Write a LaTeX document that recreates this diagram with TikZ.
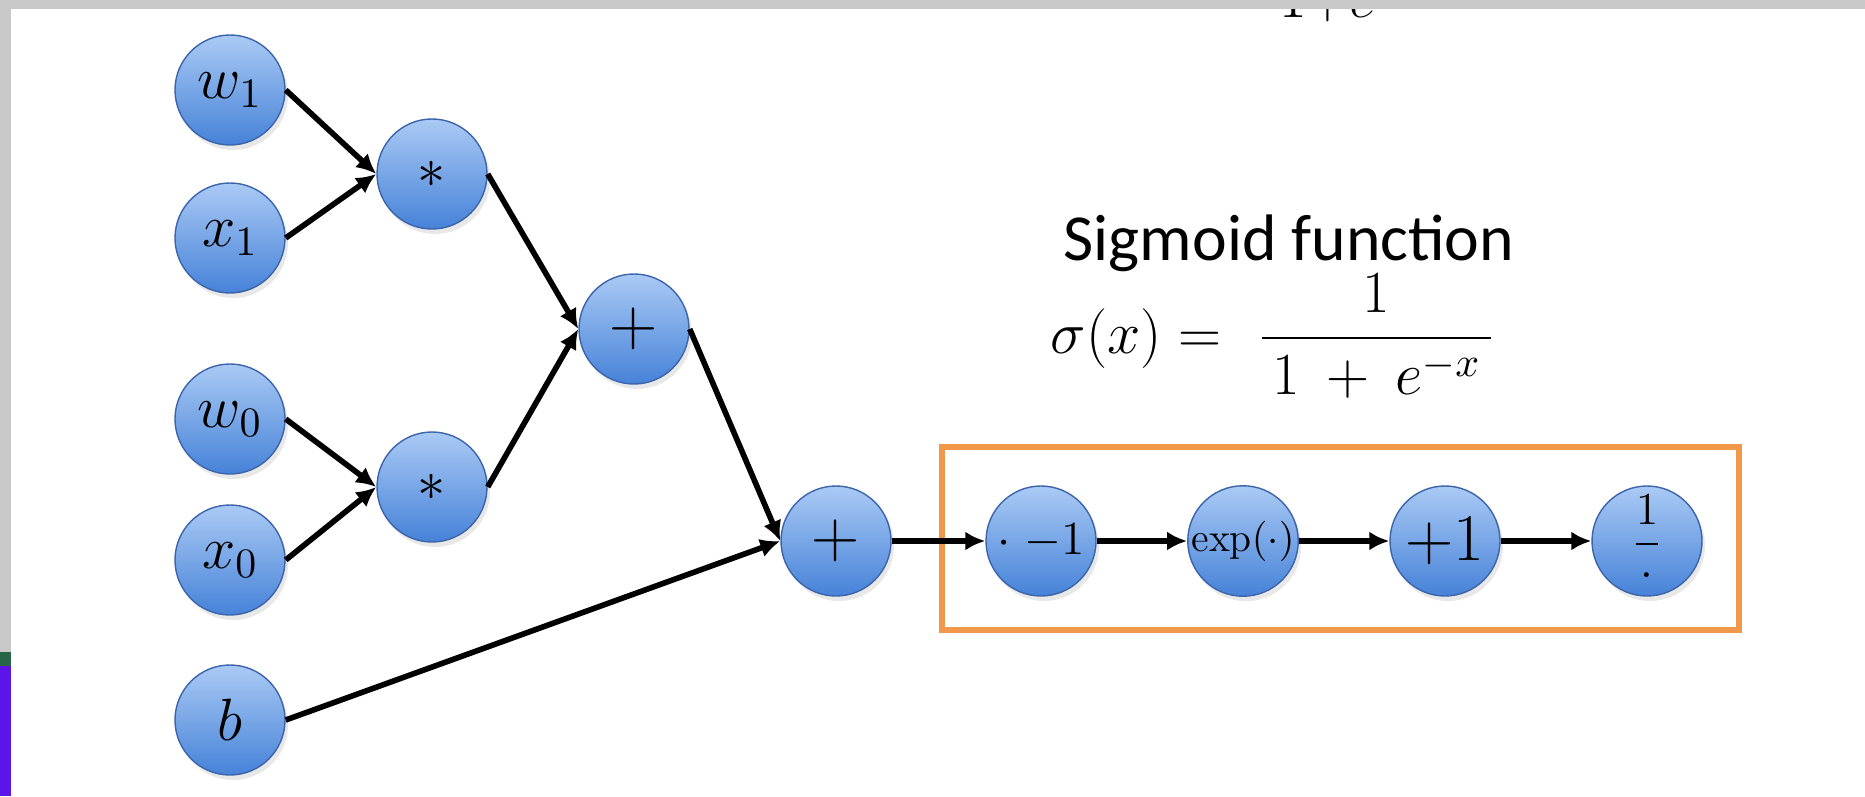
\RequirePackage{fix-cm}
\documentclass[tikz,border=0pt]{standalone}
\usepackage{amsmath}
\usepackage{fontspec}
\newfontfamily\calibri{Carlito}
\usetikzlibrary{arrows.meta,shadows}

\definecolor{nodetop}{RGB}{170,202,245}
\definecolor{nodebot}{RGB}{70,130,216}
\definecolor{nodeline}{RGB}{60,100,170}
\definecolor{boxorange}{RGB}{242,152,74}
\definecolor{framegrey}{RGB}{200,200,200}
\definecolor{slidegreen}{RGB}{40,100,70}
\definecolor{slidepurple}{RGB}{92,20,232}

\begin{document}
\begin{tikzpicture}[
  x=1cm,y=1cm,
  op/.style={circle, draw=nodeline, line width=0.4pt, top color=nodetop, bottom color=nodebot, minimum size=1.1cm, inner sep=0pt, font=\fontsize{17}{19}\selectfont, drop shadow={opacity=0.18, shadow xshift=0.3mm, shadow yshift=-0.5mm}},
  arr/.style={-{Latex[length=2mm,width=1.9mm]}, line width=1.6pt},
  sigbox/.style={draw=boxorange, line width=1.7pt}
]
\useasboundingbox (0,0) rectangle (18.65,7.96);
\fill[white] (0,0) rectangle (18.65,7.96);
% cut-off text from the slide above
\node[anchor=base, font=\fontsize{16}{18}\selectfont] (cut) at (13.27,7.785) {$1{+}e$};
% screenshot frame
\fill[framegrey] (0,7.87) rectangle (18.65,7.96);
\fill[framegrey] (0,1.44) rectangle (0.11,7.96);
\fill[slidegreen] (0,1.30) rectangle (0.11,1.44);
\fill[slidepurple] (0,0) rectangle (0.11,1.30);

\node[op] (w1) at (2.30,7.06) {$w_1$};
\node[op] (x1) at (2.30,5.58) {$x_1$};
\node[op] (w0) at (2.30,3.77) {$w_0$};
\node[op] (x0) at (2.30,2.36) {$x_0$};
\node[op] (b) at (2.30,0.76) {$b$};
\node[op, font=\fontsize{16}{18}\selectfont] (mulA) at (4.32,6.22) {$*$};
\node[op, font=\fontsize{16}{18}\selectfont] (mulB) at (4.32,3.09) {$*$};
\node[op, font=\fontsize{19}{21}\selectfont] (addA) at (6.34,4.67) {$+$};
\node[op, font=\fontsize{19}{21}\selectfont] (addB) at (8.36,2.55) {$+$};
\node[op, font=\fontsize{13.5}{15}\selectfont] (neg) at (10.41,2.55) {$\cdot\;{-}1$};
\node[op, font=\fontsize{11.5}{13}\selectfont] (expo) at (12.43,2.55) {$\exp(\cdot)$};
\node[op, font=\fontsize{19}{21}\selectfont] (plusone) at (14.45,2.55) {$+1$};
\node[op, font=\fontsize{13}{15}\selectfont] (recip) at (16.47,2.55) {$\dfrac{1}{\cdot}$};

\draw[sigbox] (9.42,1.66) rectangle (17.39,3.49);
\node[inner sep=0pt, font=\calibri\fontsize{18.7}{22}\selectfont] (title) at (12.89,5.53) {Sigmoid function};
\node[inner sep=0pt, font=\fontsize{17}{20}\selectfont] (sigma) at (12.73,4.60) {$\sigma(x) =\mkern6mu \dfrac{1}{\mkern3mu 1\mkern4mu+\mkern4mu e^{-x}\mkern3mu}$};

\foreach \a/\b in {w1/mulA,x1/mulA,w0/mulB,x0/mulB,mulA/addA,mulB/addA,addA/addB,b/addB,addB/neg,neg/expo,expo/plusone,plusone/recip}{\draw[arr] (\a.east) -- (\b.west);}
\end{tikzpicture}
\end{document}
